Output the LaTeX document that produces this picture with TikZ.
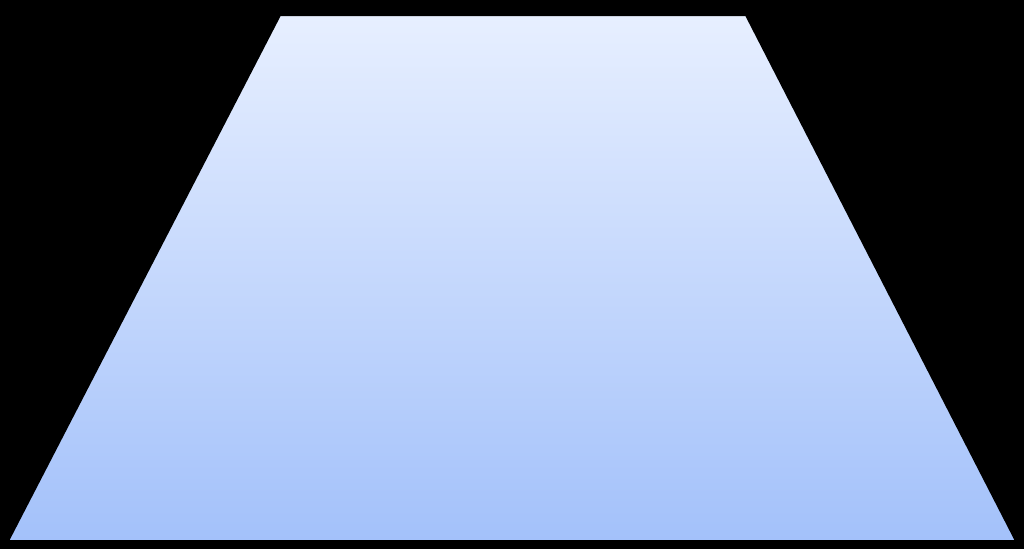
\documentclass[tikz,border=0pt]{standalone}
\usepackage{tikz}
\definecolor{topc}{HTML}{E7EFFF}
\definecolor{botc}{HTML}{A3C1FA}
\begin{document}
\begin{tikzpicture}[x=1pt,y=-1pt]
\fill[black] (0,0) rectangle (1024,549);
\useasboundingbox (0,0) rectangle (1024,549);
\coordinate (tl) at (280,15);
\coordinate (tr) at (746,15);
\coordinate (br) at (1016,541);
\coordinate (bl) at (8,541);
\shade[top color=topc,bottom color=botc,draw=black,line width=2pt] (tl) -- (tr) -- (br) -- (bl) -- cycle;
\end{tikzpicture}
\end{document}
